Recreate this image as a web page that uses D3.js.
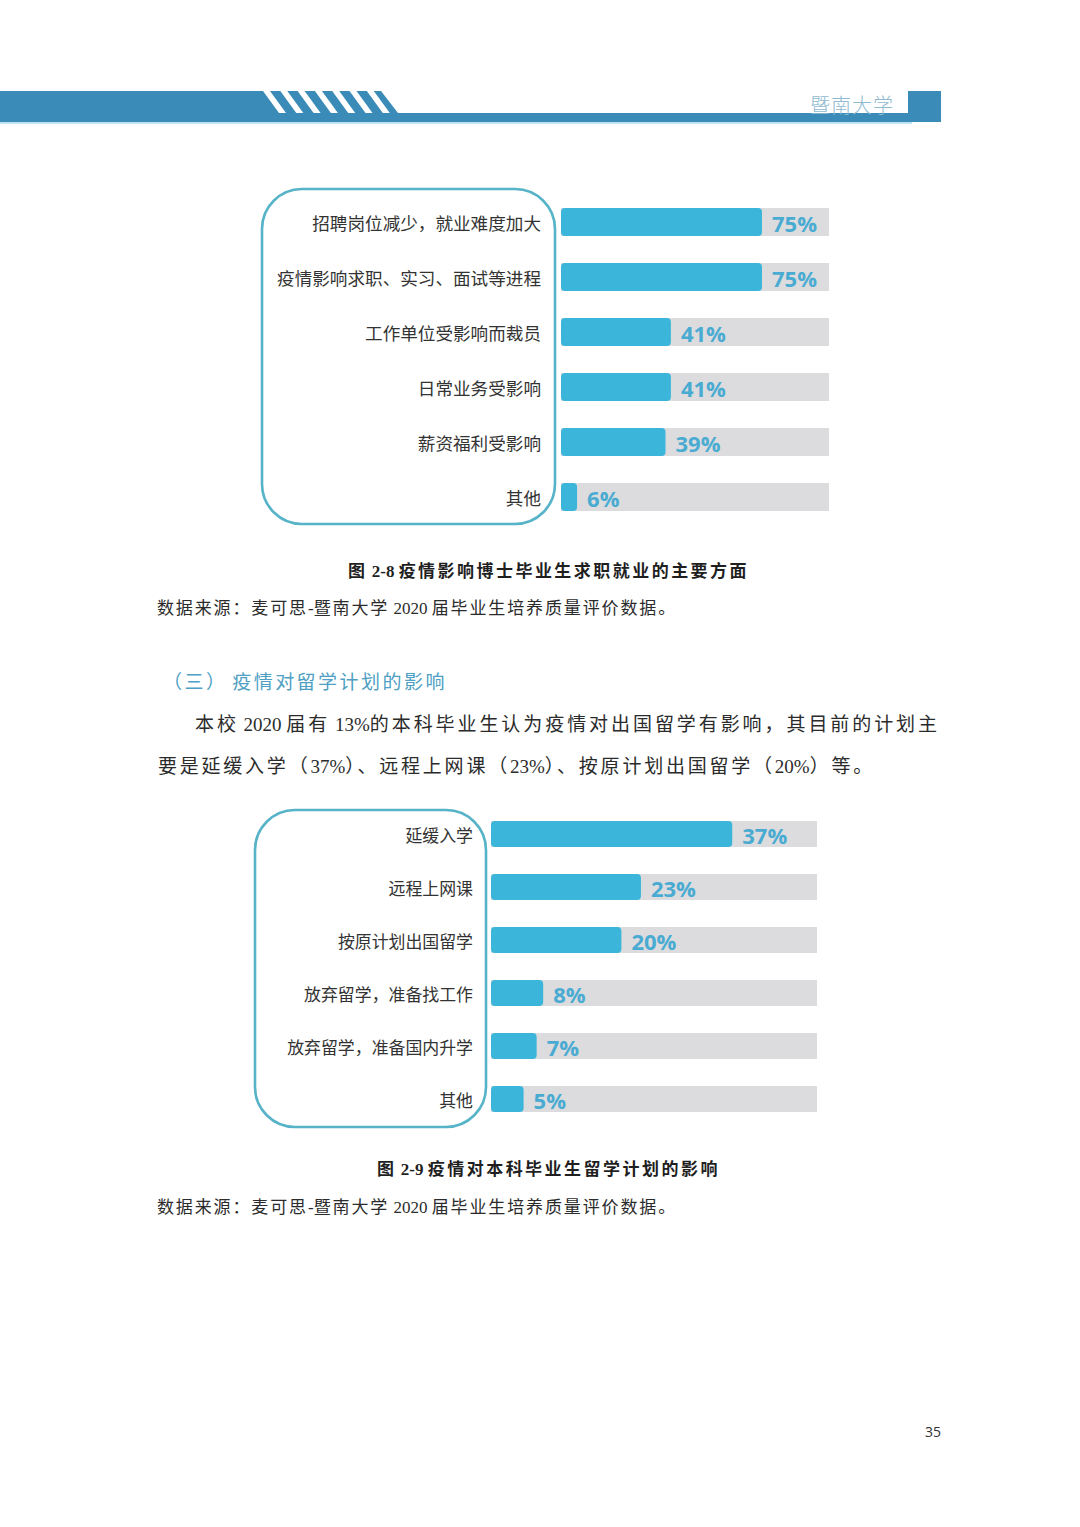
<!DOCTYPE html>
<html><head><meta charset="utf-8">
<script src="https://cdn.jsdelivr.net/npm/d3@7"></script>
<style>
html,body{margin:0;padding:0;background:#fff;}
svg{display:block;}
</style></head>
<body>
<script>
const categories1 = ["招聘岗位减少，就业难度加大","疫情影响求职、实习、面试等进程","工作单位受影响而裁员","日常业务受影响","薪资福利受影响","其他"];
const values1 = [75, 75, 41, 41, 39, 6];
const categories2 = ["延缓入学","远程上网课","按原计划出国留学","放弃留学，准备找工作","放弃留学，准备国内升学","其他"];
const values2 = [37, 23, 20, 8, 7, 5];
const domain1 = [0, 100];
const domain2 = [0, 50];
const caption1 = "图 2-8 疫情影响博士毕业生求职就业的主要方面";
const caption2 = "图 2-9 疫情对本科毕业生留学计划的影响";
const sourceText = "数据来源：麦可思-暨南大学 2020 届毕业生培养质量评价数据。";
const headingText = "（三） 疫情对留学计划的影响";
const para1 = "本校 2020 届有 13%的本科毕业生认为疫情对出国留学有影响，其目前的计划主";
const para2 = "要是延缓入学（37%）、远程上网课（23%）、按原计划出国留学（20%）等。";
const headerTitle = "暨南大学";
const pageNumber = "35";

const W = 1080, H = 1527;
const svg = d3.select("body").append("svg").attr("width", W).attr("height", H);
svg.append("rect").attr("width", W).attr("height", H).attr("fill", "#fff");

const serif = "'Liberation Serif','Noto Sans CJK SC',serif";
const cjk = "'Noto Sans CJK SC','Liberation Serif',sans-serif";
const BLUE = "#3bb5da", GRAY = "#dcdcde", LABEL = "#4aabd2", BOX = "#56b3c8";

// ---- header band ----
const HB = "#3a8bb7";
const hdr = svg.append("g");
hdr.append("rect").attr("x", 0).attr("y", 113).attr("width", 912).attr("height", 9).attr("fill", HB);
hdr.append("polygon").attr("points", "0,91 381,91 398,113 398,122 0,122").attr("fill", HB);
hdr.append("rect").attr("x", 0).attr("y", 122).attr("width", 912).attr("height", 2).attr("fill", "#bfe3f0");
d3.range(7).forEach(i => {
  const x0 = 263 + i * 17.3;
  hdr.append("polygon")
    .attr("points", `${x0},91 ${x0+7},91 ${x0+23},113 ${x0+16},113`)
    .attr("fill", "#fff");
});
hdr.append("rect").attr("x", 908).attr("y", 91).attr("width", 33).attr("height", 31).attr("fill", HB);
hdr.append("text").attr("x", 893).attr("y", 104).attr("text-anchor", "end")
  .attr("dominant-baseline", "central").attr("font-family", cjk).attr("font-size", 20)
  .attr("font-weight", 300).attr("fill", "#8fbad0").attr("textLength", 83).attr("lengthAdjust", "spacing")
  .text(headerTitle);

// ---- bar chart helper ----
function drawChart(cfg) {
  const g = svg.append("g");
  const x = d3.scaleLinear().domain(cfg.domain).range([cfg.x0, cfg.x1]);
  const y = d3.scalePoint().domain(cfg.cats).range([cfg.yTop, cfg.yBot]);
  const data = cfg.cats.map((c, i) => ({c, v: cfg.vals[i]}));
  g.append("rect").attr("x", cfg.box[0]).attr("y", cfg.box[1]).attr("width", cfg.box[2])
    .attr("height", cfg.box[3]).attr("rx", 40).attr("ry", 40)
    .attr("fill", "none").attr("stroke", BOX).attr("stroke-width", 2.6);
  g.selectAll(".bg").data(data).join("rect")
    .attr("x", x(cfg.domain[0])).attr("y", d => y(d.c) - cfg.bh / 2)
    .attr("width", x(cfg.domain[1]) - x(cfg.domain[0])).attr("height", cfg.bh).attr("fill", GRAY);
  g.selectAll(".bar").data(data).join("rect")
    .attr("x", x(0)).attr("y", d => y(d.c) - cfg.bh / 2)
    .attr("width", d => x(d.v) - x(0)).attr("height", cfg.bh)
    .attr("rx", d => Math.min(4, (x(d.v) - x(0)) / 2)).attr("fill", BLUE);
  g.selectAll(".val").data(data).join("text")
    .attr("x", d => x(d.v) + 10).attr("y", d => y(d.c) + 1)
    .attr("dominant-baseline", "central").attr("font-family", "'Open Sans',sans-serif")
    .attr("font-weight", 700).attr("font-size", 22).attr("fill", LABEL)
    .text(d => d.v + "%");
  g.selectAll(".cat").data(data).join("text")
    .attr("x", cfg.labelX).attr("y", d => y(d.c))
    .attr("text-anchor", "end").attr("dominant-baseline", "central")
    .attr("font-family", cjk).attr("font-size", cfg.fs).attr("fill", "#333")
    .text(d => d.c);
}

drawChart({cats: categories1, vals: values1, domain: domain1, x0: 561, x1: 829,
  yTop: 222, yBot: 497, bh: 28, labelX: 541, fs: 17.6, box: [262, 189, 293, 335]});
drawChart({cats: categories2, vals: values2, domain: domain2, x0: 491, x1: 817,
  yTop: 834, yBot: 1099, bh: 26, labelX: 473, fs: 16.9, box: [255, 810, 231, 317]});

// ---- texts: CJK runs spaced out, Latin runs kept tight ----
const isCJK = ch => /[\u3000-\u303f\u3400-\u9fff\uff00-\uffef]/.test(ch);
function line(txt, x, y, len, opts = {}) {
  const t = svg.append("text").attr("x", x).attr("y", y).attr("dominant-baseline", "central")
    .attr("font-family", opts.family || serif).attr("font-size", opts.fs || 17)
    .attr("font-weight", opts.weight || 400).attr("fill", opts.fill || "#2b2b2b");
  const runs = [];
  for (const ch of txt) {
    const c = isCJK(ch);
    if (runs.length && runs[runs.length - 1].c === c) runs[runs.length - 1].s += ch;
    else runs.push({c, s: ch});
  }
  const spans = runs.map(r => ({r, el: t.append("tspan").text(r.s)}));
  const natural = t.node().getComputedTextLength();
  let nCJK = 0;
  runs.forEach(r => { if (r.c) nCJK += [...r.s].length; });
  const ls = nCJK ? (len - natural) / nCJK : 0;
  spans.forEach(({r, el}) => { if (r.c) el.attr("letter-spacing", ls); });
}
line(caption1, 348, 571, 401, {weight: 700, fs: 17, fill: "#1f1f1f"});
line(sourceText, 157, 608, 520, {fs: 17});
line(headingText, 163, 682, 284, {fs: 19, fill: "#4e9fc3"});
line(para1, 195, 724, 745, {fs: 19});
line(para2, 158, 766, 717, {fs: 19});
line(caption2, 377, 1169, 343, {weight: 700, fs: 17, fill: "#1f1f1f"});
line(sourceText, 157, 1207, 520, {fs: 17});

svg.append("text").attr("x", 933).attr("y", 1431).attr("text-anchor", "middle")
  .attr("dominant-baseline", "central").attr("font-family", "'Open Sans',sans-serif")
  .attr("font-size", 14).attr("fill", "#333").text(pageNumber);
</script>
</body></html>
